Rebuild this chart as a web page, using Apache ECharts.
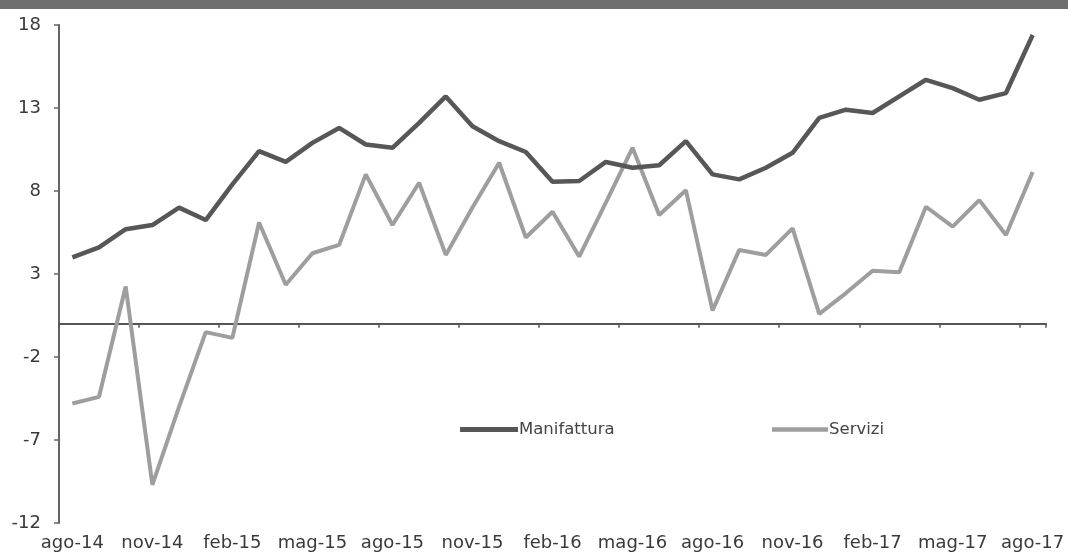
<!DOCTYPE html>
<html>
<head>
<meta charset="utf-8">
<script src="https://cdn.jsdelivr.net/npm/echarts@6/dist/echarts.min.js"></script>
<style>html,body{margin:0;padding:0;background:#fff;}#c{width:1068px;height:558px;}</style>
</head>
<body>
<div id="c"></div>
<script>
const months = ['ago-14','set-14','ott-14','nov-14','dic-14','gen-15','feb-15','mar-15','apr-15','mag-15','giu-15','lug-15',
  'ago-15','set-15','ott-15','nov-15','dic-15','gen-16','feb-16','mar-16','apr-16','mag-16','giu-16','lug-16',
  'ago-16','set-16','ott-16','nov-16','dic-16','gen-17','feb-17','mar-17','apr-17','mag-17','giu-17','lug-17','ago-17'];
const manifattura = [4.0,4.6,5.7,5.95,7.0,6.25,8.4,10.4,9.75,10.9,11.8,10.8,
  10.6,12.1,13.7,11.9,11.0,10.35,8.55,8.6,9.75,9.4,9.55,11.0,
  9.0,8.7,9.4,10.3,12.4,12.9,12.7,13.7,14.7,14.2,13.5,13.9,17.4];
const servizi = [-4.8,-4.4,2.25,-9.7,-5.0,-0.5,-0.85,6.1,2.35,4.25,4.75,9.0,
  5.95,8.5,4.15,7.0,9.7,5.2,6.75,4.05,7.3,10.6,6.55,8.05,
  0.8,4.45,4.15,5.75,0.6,1.85,3.2,3.1,7.05,5.85,7.45,5.35,9.15];
const yTicks = [-12,-7,-2,3,8,13,18];

const chart = echarts.init(document.getElementById('c'));
const font = 'DejaVu Sans';
chart.setOption({
  animation: false,
  backgroundColor: '#fff',
  graphic: [{type:'rect', left:0, top:0, shape:{width:1068, height:9}, style:{fill:'#6e6e6e'}}],
  grid: {left:59, right:22, top:25, bottom:35},
  legend: [
    {data:['Manifattura'], left:455, top:416, icon:'rect', itemWidth:58, itemHeight:5, textStyle:{fontFamily:font, fontSize:16.5, color:'#444', padding:[0,0,0,-4]}},
    {data:['Servizi'], left:767, top:416, icon:'rect', itemWidth:56, itemHeight:4.5, textStyle:{fontFamily:font, fontSize:16.5, color:'#444', padding:[0,0,0,-4]}}
  ],
  xAxis: [
    {type:'category', data:months, boundaryGap:true, position:'bottom',
     axisLine:{onZero:true, lineStyle:{color:'#555', width:2}},
     axisTick:{show:true, interval:2, length:4, lineStyle:{color:'#555', width:1.5}},
     axisLabel:{show:false}, splitLine:{show:false}},
    {type:'category', data:months, boundaryGap:true, position:'bottom',
     axisLine:{show:false, onZero:false}, axisTick:{show:false},
     axisLabel:{show:true, interval:2, margin:11, fontFamily:font, fontSize:18, color:'#3a3a3a'}}
  ],
  yAxis: {type:'value', min:yTicks[0], max:yTicks[yTicks.length-1], interval:5,
    axisLine:{show:true, lineStyle:{color:'#666', width:2}},
    axisTick:{show:true, length:5, lineStyle:{color:'#666', width:1.5}},
    axisLabel:{margin:18, fontFamily:font, fontSize:18, color:'#3a3a3a'},
    splitLine:{show:false}},
  series: [
    {name:'Manifattura', type:'line', data:manifattura, xAxisIndex:0, symbol:'none',
     lineStyle:{color:'#575757', width:4.5}, itemStyle:{color:'#575757'}, z:3},
    {name:'Servizi', type:'line', data:servizi, xAxisIndex:0, symbol:'none',
     lineStyle:{color:'#9e9e9e', width:4}, itemStyle:{color:'#9e9e9e'}, z:2}
  ]
});
</script>
</body>
</html>
